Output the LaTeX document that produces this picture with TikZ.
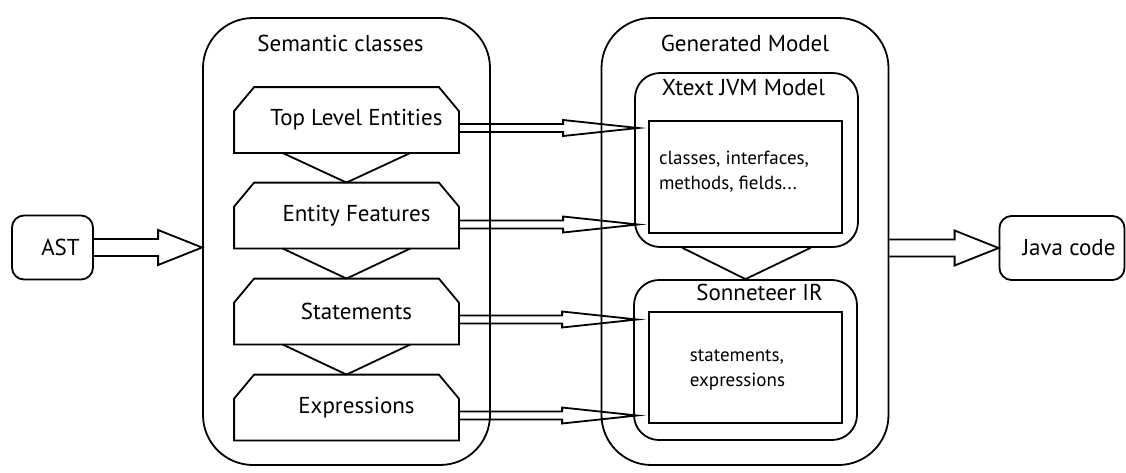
\documentclass[tikz,border=0pt]{standalone}
\usepackage{fontspec}
\setmainfont{PT Sans}
\usetikzlibrary{calc}
\tikzstyle{every node}=[line width=0.9pt]
\tikzstyle{lbl}=[inner sep=0pt,font=\fontsize{11.5}{14}\selectfont]
\tikzstyle{note}=[inner sep=0pt,align=left,font=\fontsize{9.5}{12.5}\selectfont]
\tikzstyle{frame}=[draw,rounded corners=25pt,minimum width=143.5pt,minimum height=223.5pt,inner sep=0pt]
\tikzstyle{panel}=[draw,rounded corners=12.5pt,minimum width=111.5pt,inner sep=0pt]
\tikzstyle{plain}=[draw,minimum width=96.5pt,inner sep=0pt]
\tikzstyle{endbox}=[draw,rounded corners=6pt,minimum height=32pt,inner sep=0pt]
\tikzstyle{layer}=[minimum width=111.5pt,minimum height=32pt,inner sep=0pt]
% outline of a layer node, cut off at its two upper corners
\newcommand{\chamfer}[1]{\draw ([yshift=-12pt]#1.north west) -- ([xshift=10pt]#1.north west)
	-- ([xshift=-10pt]#1.north east) -- ([yshift=-12pt]#1.north east)
	-- (#1.south east) -- (#1.south west) -- cycle;}
% hollow horizontal arrow: start, end, shaft half width, head half width, head length
\newcommand{\fatarrow}[5]{\draw let \p1=#1, \p2=#2 in
	(\x1,\y1+#3) -- (\x2-#5,\y1+#3) -- (\x2-#5,\y1+#4) -- (\x2,\y1)
	-- (\x2-#5,\y1-#4) -- (\x2-#5,\y1-#3) -- (\x1,\y1-#3);}

\begin{document}
\begin{tikzpicture}[x=0.5pt,y=-0.5pt,line width=0.9pt]
			\useasboundingbox (0,0) rectangle (1126,472);
			% % % % % % % % % % % % % % % % % % % % % % % % % % % % %
			\node [endbox,minimum width=40.5pt,label={[lbl,xshift=4pt]center:AST}] (ast) at (52.5,247.5) {};
			\node [endbox,minimum width=62.5pt,label={[lbl,xshift=3.5pt]center:Java code}] (java) at (1062,248) {};
			%*********************
			\node [frame,label={[lbl,anchor=center,xshift=-3pt,yshift=-13pt]north:Semantic classes}] (sem) at (346.5,241.5) {};
			\node [layer,label={[lbl,xshift=5pt]center:Top Level Entities}] (tle) at (346.5,120) {};
			\node [layer,label={[lbl,xshift=5pt]center:Entity Features}] (ef) at (346.5,215.5) {};
			\node [layer,label={[lbl,xshift=5pt]center:Statements}] (stm) at (346.5,311.5) {};
			\node [layer,label={[lbl,xshift=5pt]center:Expressions}] (expr) at (346.5,407.5) {};
			\chamfer{tle}
			\chamfer{ef}
			\chamfer{stm}
			\chamfer{expr}
			%*********************
			\node [frame,label={[lbl,anchor=center,yshift=-13pt]north:Generated Model}] (gen) at (745,241.5) {};
			\node [panel,minimum height=87pt,label={[lbl,anchor=center,xshift=-1.5pt,yshift=-7.5pt]north:Xtext JVM Model}] (jvm) at (746.5,160) {};
			\node [plain,minimum height=56pt,label={[note,xshift=-5.75pt,yshift=2.5pt]center:classes, interfaces,\\methods, fields...}] (jvmin) at (745.5,177) {};
			\node [panel,minimum height=80pt,label={[lbl,anchor=center,xshift=7pt,yshift=-6.5pt]north:Sonneteer IR}] (irb) at (745.5,360) {};
			\node [plain,minimum height=55.5pt,label={[note,xshift=-4pt,yshift=-1.25pt]center:statements,\\expressions}] (irin) at (745.5,367.5) {};
			% % % % % % % % % % % % % % % % %
			\path
			([xshift=-32pt]tle.south) edge [] (ef.north)
			(ef.north) edge [] ([xshift=32pt]tle.south)
			([xshift=-32pt]ef.south) edge [] (stm.north)
			(stm.north) edge [] ([xshift=32pt]ef.south)
			([xshift=-32pt]stm.south) edge [] (expr.north)
			(expr.north) edge [] ([xshift=32pt]stm.south)
			%**************
			([xshift=-32pt]jvm.south) edge [] (irb.north)
			(irb.north) edge [] ([xshift=32pt]jvm.south)
			;
			% % % % % % % % % % % % % % % % %
			\fatarrow{(ast.east)}{(sem.west)}{4.25pt}{8.75pt}{22pt}
			\fatarrow{(gen.east |- java.west)}{(java.west)}{4.25pt}{8.75pt}{22pt}
			%**************
			\fatarrow{([yshift=-4pt]tle.east)}{([xshift=2pt]jvm.west)}{2pt}{4pt}{37.5pt}
			\fatarrow{([yshift=-4.5pt]ef.east)}{([xshift=2pt]jvm.west)}{2pt}{4pt}{37.5pt}
			\fatarrow{([yshift=-4pt]stm.east)}{([xshift=2pt]irb.west)}{2pt}{4pt}{37.5pt}
			\fatarrow{([yshift=-4pt]expr.east)}{([xshift=2pt]irb.west)}{2pt}{4pt}{37.5pt}
\end{tikzpicture}
\end{document}
